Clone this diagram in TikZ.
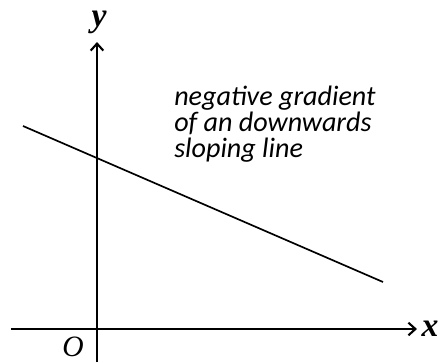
\documentclass[tikz,border=0pt]{standalone}
\usepackage{fontspec}
\setmainfont{Liberation Serif}
\newfontfamily\notefont{Carlito}
\usetikzlibrary{positioning,arrows.meta}
\tikzset{
  axis/.style={line width=1.5pt,-{Straight Barb[length=5pt,width=9pt]}},
  graphline/.style={line width=1.2pt},
  axlabel/.style={font=\fontsize{24}{24}\selectfont\bfseries\itshape,inner sep=0pt},
  note/.style={font=\notefont\itshape\fontsize{20}{18.5}\selectfont,align=left,anchor=west,inner sep=0pt}
}
\begin{document}
\begin{tikzpicture}
  \useasboundingbox (0,0) rectangle (11,9.05);
  % Ejes
  \coordinate (xstart) at (0.275,0.825);
  \coordinate (xend) at (10.425,0.825);
  \coordinate (ystart) at (2.425,0);
  \coordinate (yend) at (2.425,8.0);
  \draw[axis] (xstart) -- (xend);
  \draw[axis] (ystart) -- (yend);
  \node[axlabel,right=3pt of xend] (xlab) {x};
  \node[axlabel] (ylab) at (2.475,8.5) {y};
  \node[font=\fontsize{21}{21}\selectfont\itshape,inner sep=0pt] (orig) at (1.825,0.38) {O};

  % Recta de pendiente negativa
  \coordinate (lstart) at (0.575,5.9);
  \coordinate (lend) at (9.575,2.0);
  \draw[graphline] (lstart) -- (lend);

  % Texto
  \node[note] (txt) at (4.35,5.95) {negative gradient\\of an downwards\\sloping line};
\end{tikzpicture}
\end{document}
